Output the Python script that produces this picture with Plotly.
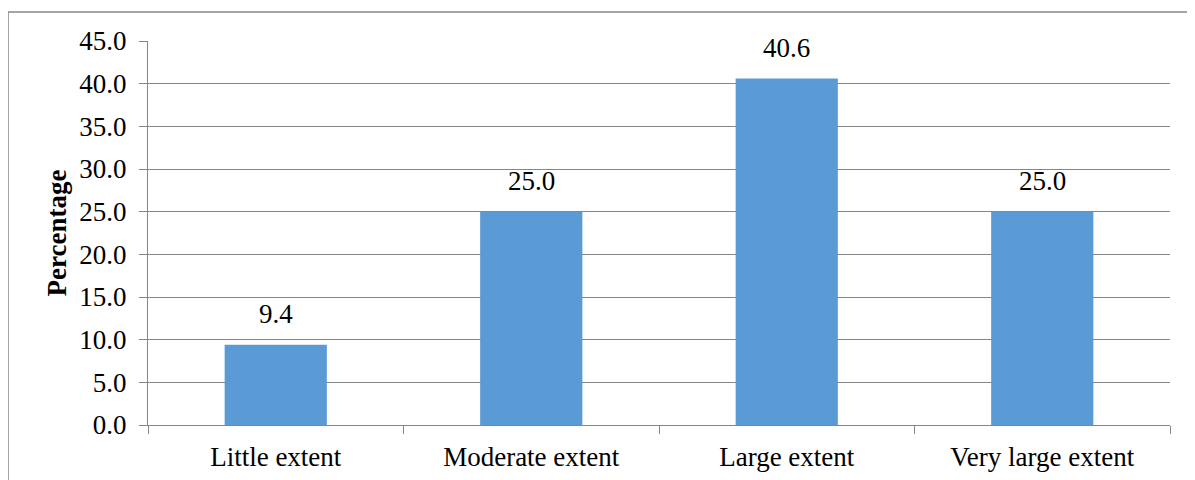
import plotly.graph_objects as go

categories = ["Little extent", "Moderate extent", "Large extent", "Very large extent"]
values = [9.4, 25.0, 40.6, 25.0]
y_ticks = [0, 5, 10, 15, 20, 25, 30, 35, 40, 45]
y_title = "Percentage"

FONT = "Liberation Serif, Times New Roman, serif"
GRAY = "#868686"
FS = 27

fig = go.Figure()
fig.add_trace(go.Bar(x=categories, y=values, marker=dict(color="#5B9BD5", line=dict(width=0)),
                     width=0.4, hoverinfo="x+y"))

for c, v in zip(categories, values):
    fig.add_annotation(x=c, y=v, text=f"{v:.1f}", showarrow=False, yanchor="bottom",
                       yshift=14, font=dict(family=FONT, size=FS, color="#000"))

fig.add_shape(type="rect", xref="paper", yref="paper", x0=-0.137, x1=1.2, y0=-0.5, y1=1.0755,
              line=dict(color=GRAY, width=1.5), fillcolor="rgba(0,0,0,0)", layer="below")

fig.update_layout(
    width=1195, height=480,
    margin=dict(l=140, r=33, t=33, b=63),
    paper_bgcolor="white", plot_bgcolor="white",
    showlegend=False, bargap=0.6,
    font=dict(family=FONT, size=FS, color="#000"),
)
fig.update_yaxes(range=[0, 45], tickvals=y_ticks, tickformat=".1f",
                 showgrid=True, gridcolor=GRAY, gridwidth=1,
                 showline=True, linecolor=GRAY, linewidth=1,
                 ticks="outside", ticklen=8, tickcolor=GRAY, zeroline=False,
                 ticklabelstandoff=7,
                 tickfont=dict(family=FONT, size=FS, color="#000"),
                 title=dict(text=f"<b>{y_title}</b>", font=dict(family=FONT, size=FS, color="#000"), standoff=4))
fig.update_xaxes(showline=True, linecolor=GRAY, linewidth=1, ticks="outside", ticklen=8,
                 tickcolor=GRAY, tickson="boundaries", showgrid=False, ticklabelstandoff=8,
                 tickfont=dict(family=FONT, size=FS, color="#000"))

fig.write_html("out.html")
